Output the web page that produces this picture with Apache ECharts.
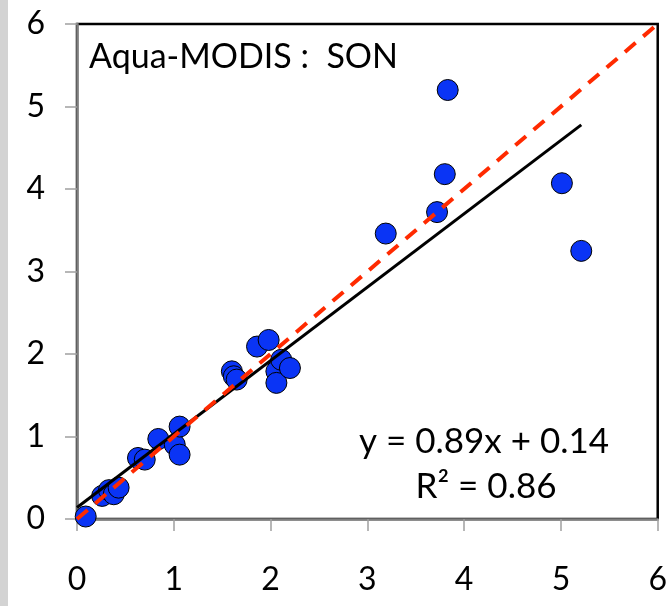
<!DOCTYPE html>
<html>
<head>
<meta charset="utf-8">
<script src="https://cdn.jsdelivr.net/npm/echarts@6/dist/echarts.min.js"></script>
<style>
html,body{margin:0;padding:0;background:#fff;}
#chart{width:670px;height:606px;}
</style>
</head>
<body>
<div id="chart"></div>
<script>
// ---- data ----
const xValues = [0.09, 0.26, 0.33, 0.38, 0.43, 0.63, 0.70, 0.84, 1.01, 1.06, 1.06, 1.60, 1.62, 1.65, 1.86, 1.98, 2.06, 2.06, 2.11, 2.20, 3.19, 3.72, 3.80, 3.83, 5.01, 5.21];
const yValues = [0.03, 0.28, 0.35, 0.30, 0.38, 0.74, 0.72, 0.97, 0.90, 1.12, 0.78, 1.79, 1.73, 1.69, 2.09, 2.17, 1.79, 1.65, 1.93, 1.83, 3.46, 3.72, 4.18, 5.20, 4.07, 3.25];
const fitSlope = 0.89;
const fitIntercept = 0.14;
const rSquared = 0.86;
const oneToOne = [0, 6];
const tickValues = [0, 1, 2, 3, 4, 5, 6];
const panelTitle = 'Aqua-MODIS :  SON';

const points = xValues.map((x, i) => [x, yValues[i]]);
const xMax = Math.max(...xValues);
const fitLine = [[0, fitIntercept], [xMax, fitSlope * xMax + fitIntercept]];
const idLine = oneToOne.map(v => [v, v]);

const FONT = 'Lato';
const chart = echarts.init(document.getElementById('chart'), null, {renderer: 'canvas'});
chart.setOption({
  animation: false,
  backgroundColor: '#fff',
  grid: {left: 77, top: 24, right: 3, bottom: 87, show: true, borderColor: '#000', borderWidth: 2.5, backgroundColor: 'transparent'},
  xAxis: {
    type: 'value', min: tickValues[0], max: tickValues[tickValues.length - 1], interval: 1,
    axisLine: {show: true, onZero: false, lineStyle: {color: '#7f7f7f', width: 2.5}},
    axisTick: {show: true, inside: false, length: 12, lineStyle: {color: '#a0a0a0', width: 1.5}},
    axisLabel: {margin: 45, fontSize: 32, fontFamily: FONT, color: '#000'},
    splitLine: {show: false}
  },
  yAxis: {
    type: 'value', min: tickValues[0], max: tickValues[tickValues.length - 1], interval: 1,
    axisLine: {show: true, onZero: false, lineStyle: {color: '#7f7f7f', width: 2.5}},
    axisTick: {show: true, inside: false, length: 12, lineStyle: {color: '#a0a0a0', width: 1.5}},
    axisLabel: {margin: 32, fontSize: 32, fontFamily: FONT, color: '#000'},
    splitLine: {show: false}
  },
  graphic: [
    {type: 'rect', shape: {x: 0, y: 0, width: 8, height: 606}, style: {fill: '#d3d3d3'}, silent: true}
  ],
  title: [
    {text: panelTitle, left: 84, top: 35, textStyle: {fontFamily: FONT, fontSize: 34, fontWeight: 'normal', color: '#000'}},
    {text: 'y = ' + fitSlope.toFixed(2) + 'x + ' + fitIntercept.toFixed(2), left: 479, top: 419, textAlign: 'center', textStyle: {fontFamily: FONT, fontSize: 35, fontWeight: 'normal', color: '#000'}},
    {text: 'R² = ' + rSquared.toFixed(2), left: 481, top: 464, textAlign: 'center', textStyle: {fontFamily: FONT, fontSize: 35, fontWeight: 'normal', color: '#000'}}
  ],
  series: [
    {type: 'scatter', data: points, symbol: 'circle', symbolSize: 21, z: 2,
     itemStyle: {color: '#0a34f5', borderColor: '#000', borderWidth: 1, opacity: 1}},
    {type: 'line', data: fitLine, symbol: 'none', z: 3, lineStyle: {color: '#000', width: 3}},
    {type: 'line', data: idLine, symbol: 'none', z: 4, lineStyle: {color: '#ff2a00', width: 4, type: [14, 10]}}
  ]
});
</script>
</body>
</html>
